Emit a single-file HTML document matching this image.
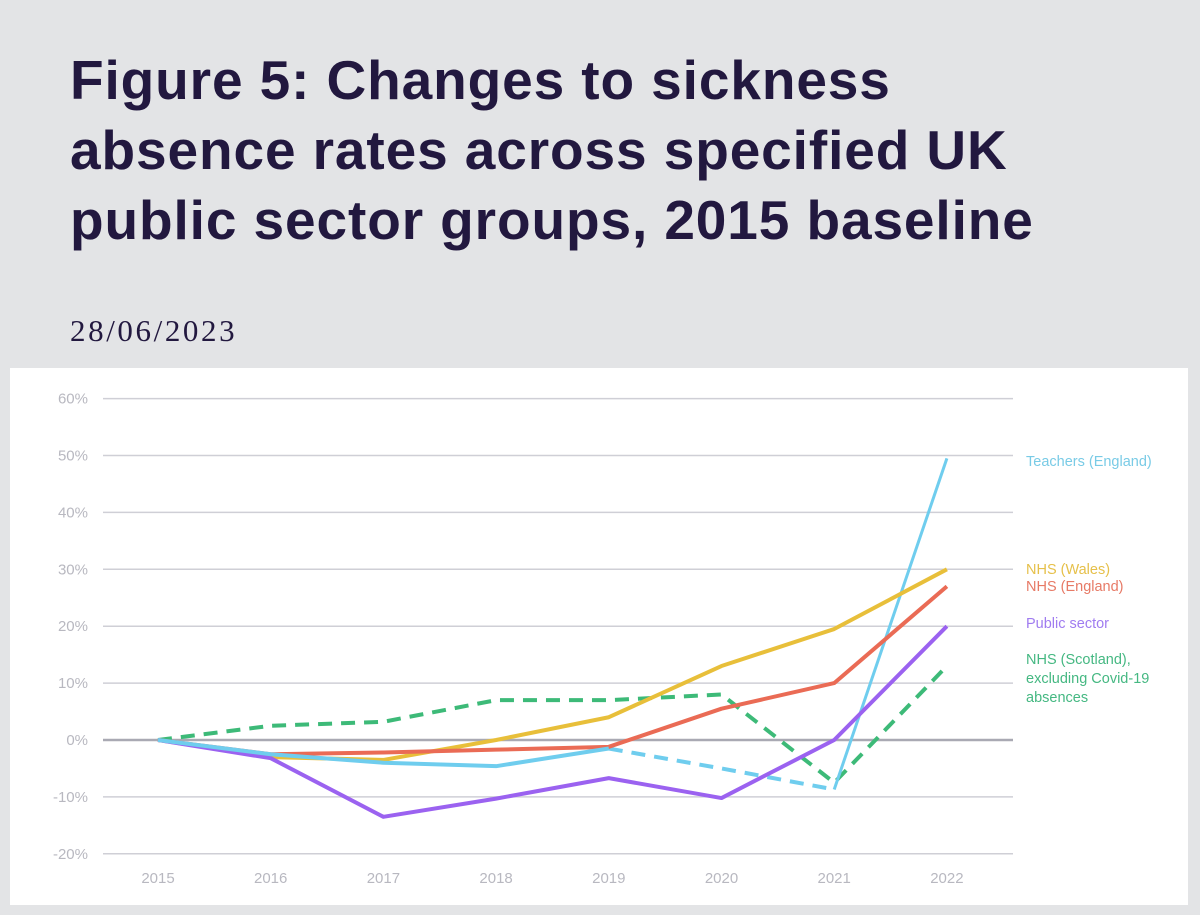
<!DOCTYPE html>
<html><head><meta charset="utf-8"><style>
body{margin:0;width:1200px;height:915px;background:#e3e4e6;overflow:hidden;font-family:"Liberation Sans",sans-serif}
#title{position:absolute;left:70px;top:45px;font-size:55px;font-weight:bold;color:#22183f;line-height:70px;margin:0;letter-spacing:0.9px}
#date{position:absolute;left:70px;top:313px;font-family:"Liberation Serif",serif;font-size:31px;letter-spacing:2.6px;color:#22183f}
#panel{position:absolute;left:10px;top:368px;width:1178px;height:537px;background:#fff}
svg{position:absolute;left:0;top:0}
</style></head><body>
<h1 id="title">Figure 5: Changes to sickness<br>absence rates across specified UK<br>public sector groups, 2015 baseline</h1>
<div id="date">28/06/2023</div>
<div id="panel"></div>
<svg id="chart" width="1200" height="915"></svg>
<script>
const years=[2015,2016,2017,2018,2019,2020,2021,2022];
const yTicks=[60,50,40,30,20,10,0,-10,-20];
const teachersSolid=[0,-2.5,-4,-4.6,-1.5,null,null,null];
const teachersDashed=[null,null,null,null,-1.5,-5,-8.7,null];
const teachersJump=[null,null,null,null,null,null,-8.7,49.5];
const nhsWales=[0,-3,-3.5,0,4,13,19.5,30];
const nhsEngland=[0,-2.5,-2.2,-1.7,-1.2,5.5,10,27];
const publicSector=[0,-3.2,-13.5,-10.3,-6.7,-10.2,0,20];
const nhsScotland=[0,2.5,3.2,7,7,8,-7.5,13];
const labels=[["Teachers (England)"],["NHS (Wales)"],["NHS (England)"],["Public sector"],["NHS (Scotland),","excluding Covid-19","absences"]];

const svg=document.getElementById('chart');
const NS='http://www.w3.org/2000/svg';
const x=i=>158+i*112.7;
const y=v=>740-v*5.69;
function mk(t,a){const e=document.createElementNS(NS,t);for(const k in a)e.setAttribute(k,a[k]);svg.appendChild(e);return e;}
yTicks.forEach(t=>{
  const l=mk('line',{x1:103,x2:1013,y1:y(t),y2:y(t),stroke:t===0?'#a9a9b3':'#cfcfd6','stroke-width':t===0?2.5:1.5});
  
  
  const tx=mk('text',{x:88,y:y(t)+5,'text-anchor':'end','font-size':15,fill:'#b8b8c0'});
  tx.textContent=t+'%';
  
  
});
years.forEach((yr,i)=>{
  const tx=mk('text',{x:x(i),y:883,'text-anchor':'middle','font-size':15,fill:'#b8b8c0'});
  tx.textContent=yr;
  
  
});
function line(data,color,dash,w,name){
  const pts=[];data.forEach((v,i)=>{if(v!==null)pts.push(x(i)+','+y(v));});
  const p=mk('polyline',{points:pts.join(' '),fill:'none',stroke:color,'stroke-width':w,'stroke-linejoin':'round','stroke-dasharray':dash||'none'});
  
  
}
line(nhsScotland,'#3dba78','14 9',4,'nhs-scotland-line');
line(teachersDashed,'#6fcdee','14 9',4,'teachers-dashed-line');
line(teachersJump,'#6fcdee',null,3,'teachers-2022-line');
line(nhsWales,'#e8bf3a',null,4,'nhs-wales-line');
line(nhsEngland,'#ea6b55',null,4,'nhs-england-line');
line(publicSector,'#9b62f0',null,4,'public-sector-line');
line(teachersSolid,'#6fcdee',null,4,'teachers-line');
const colors=['#79cbe6','#e6c04a','#e77a66','#a07cf0','#45b882'];
const labelY=[466,574,591,628,664];
labels.forEach((ls,k)=>{
  const t=mk('text',{x:1026,y:labelY[k],'font-size':14.5,fill:colors[k]});
  
  
  ls.forEach((s,j)=>{const ts=document.createElementNS(NS,'tspan');ts.setAttribute('x',1026);ts.setAttribute('dy',j?19:0);ts.textContent=s;t.appendChild(ts);});
});
</script>
</body></html>
